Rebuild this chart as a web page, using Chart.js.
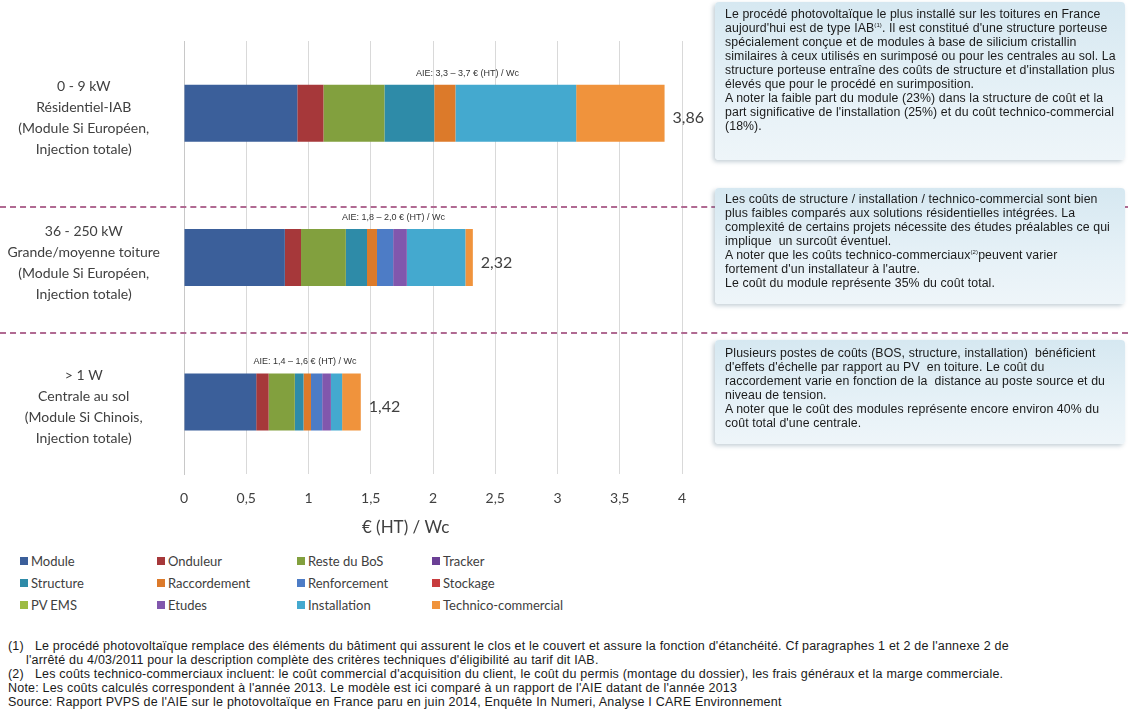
<!DOCTYPE html>
<html lang="fr">
<head>
<meta charset="UTF-8">
<title>Coûts PV France 2013</title>
<script src="https://cdn.jsdelivr.net/npm/chart.js"></script>
<style>
  body { margin: 0; background: #fff; width: 1128px; height: 725px; position: relative; overflow: hidden; font-family: Lato, sans-serif; }
  #wrap { position: absolute; left: 0; top: 0; width: 715px; height: 545px; }
  .sep { position: absolute; left: 0; width: 1128px; height: 0; border-top: 2px dashed #b06a92; }
  .box { position: absolute; left: 715px; width: 410px; padding: 5px 0 0 10px; box-sizing: border-box;
         background: linear-gradient(180deg, #d6e8f1 0%, #e6f1f7 60%, #eef5f9 100%);
         border-radius: 4px; box-shadow: -2px 2px 4px rgba(90,120,140,0.35);
         font-family: "Liberation Sans", Arial, sans-serif; font-size: 12.3px; letter-spacing: 0.1px; line-height: 14px; color: #1a1a1a; }
  .box p { margin: 0; white-space: nowrap; }
  .box sup { font-size: 6px; line-height: 0; vertical-align: 5px; }
  #legend { position: absolute; left: 20px; top: 552px; display: grid; grid-template-columns: 137px 140px 135px 160px; row-gap: 5px; }
  .li { font-size: 13px; color: #404040; display: flex; align-items: center; height: 17px; white-space: nowrap; }
  .li span { display: inline-block; width: 8px; height: 8px; margin-right: 3px; }
  #notes { position: absolute; left: 8px; top: 639px; font-family: "Liberation Sans", Arial, sans-serif; font-size: 12.5px; letter-spacing: 0.2px; line-height: 14px; color: #1a1a1a; }
  #notes p { margin: 0; white-space: nowrap; }
  #notes .ind { padding-left: 18px; }
</style>
</head>
<body>
<div id="wrap"><canvas id="costChart" width="715" height="545"></canvas></div>

<div class="sep" style="top:206px"></div>
<div class="sep" style="top:332px"></div>

<div class="box" style="top:2px; height:158px">
  <p>Le procédé photovoltaïque le plus installé sur les toitures en France</p>
  <p>aujourd'hui est de type IAB<sup>(1)</sup>. Il est constitué d'une structure porteuse</p>
  <p>spécialement conçue et de modules à base de silicium cristallin</p>
  <p>similaires à ceux utilisés en surimposé ou pour les centrales au sol. La</p>
  <p>structure porteuse entraîne des coûts de structure et d'installation plus</p>
  <p>élevés que pour le procédé en surimposition.</p>
  <p>A noter la faible part du module (23%) dans la structure de coût et la</p>
  <p>part significative de l'installation (25%) et du coût technico-commercial</p>
  <p>(18%).</p>
</div>

<div class="box" style="top:188px; height:116px; padding-top:4px">
  <p>Les coûts de structure / installation / technico-commercial sont bien</p>
  <p>plus faibles comparés aux solutions résidentielles intégrées. La</p>
  <p>complexité de certains projets nécessite des études préalables ce qui</p>
  <p>implique&nbsp; un surcoût éventuel.</p>
  <p>A noter que les coûts technico-commerciaux<sup>(2)</sup>peuvent varier</p>
  <p>fortement d'un installateur à l'autre.</p>
  <p>Le coût du module représente 35% du coût total.</p>
</div>

<div class="box" style="top:340px; height:104px; padding-top:6px">
  <p>Plusieurs postes de coûts (BOS, structure, installation)&nbsp; bénéficient</p>
  <p>d'effets d'échelle par rapport au PV&nbsp; en toiture. Le coût du</p>
  <p>raccordement varie en fonction de la&nbsp; distance au poste source et du</p>
  <p>niveau de tension.</p>
  <p>A noter que le coût des modules représente encore environ 40% du</p>
  <p>coût total d'une centrale.</p>
</div>

<div id="legend"></div>

<div id="notes">
  <p>(1)&nbsp;&nbsp; Le procédé photovoltaïque remplace des éléments du bâtiment qui assurent le clos et le couvert et assure la fonction d'étanchéité. Cf paragraphes 1 et 2 de l'annexe 2 de</p>
  <p class="ind">l'arrêté du 4/03/2011 pour la description complète des critères techniques d'éligibilité au tarif dit IAB.</p>
  <p>(2)&nbsp;&nbsp; Les coûts technico-commerciaux incluent: le coût commercial d'acquisition du client, le coût du permis (montage du dossier), les frais généraux et la marge commerciale.</p>
  <p>Note: Les coûts calculés correspondent à l'année 2013. Le modèle est ici comparé à un rapport de l'AIE datant de l'année 2013</p>
  <p>Source: Rapport PVPS de l'AIE sur le photovoltaïque en France paru en juin 2014, Enquête In Numeri, Analyse I CARE Environnement</p>
</div>

<script>
// segments, in €(HT)/Wc, one value per category
const categories = [
    ['0 - 9 kW', 'Résidentiel-IAB', '(Module Si Européen,', 'Injection totale)'],
    ['36 - 250 kW', 'Grande/moyenne toiture', '(Module Si Européen,', 'Injection totale)'],
    ['> 1 W', 'Centrale au sol', '(Module Si Chinois,', 'Injection totale)']
];
const module_ = [0.91, 0.81, 0.58];
const onduleur = [0.21, 0.13, 0.10];
const resteBos = [0.49, 0.36, 0.21];
const tracker = [0, 0, 0];
const structure = [0.40, 0.17, 0.07];
const raccordement = [0.17, 0.08, 0.06];
const renforcement = [0, 0.13, 0.09];
const stockage = [0, 0, 0];
const pvEms = [0, 0, 0];
const etudes = [0, 0.11, 0.07];
const installation = [0.97, 0.47, 0.09];
const technico = [0.71, 0.06, 0.15];
const aieLabels = ['AIE: 3,3 – 3,7 € (HT) / Wc', 'AIE: 1,8 – 2,0 € (HT) / Wc', 'AIE: 1,4 – 1,6 € (HT) / Wc'];
const xTicks = [0, 0.5, 1, 1.5, 2, 2.5, 3, 3.5, 4];
const xTitle = '€ (HT) / Wc';

const series = [
    { label: 'Module', data: module_, color: '#3b5f9a' },
    { label: 'Onduleur', data: onduleur, color: '#a6383a' },
    { label: 'Reste du BoS', data: resteBos, color: '#82a03e' },
    { label: 'Tracker', data: tracker, color: '#6b3f95' },
    { label: 'Structure', data: structure, color: '#2e8ba8' },
    { label: 'Raccordement', data: raccordement, color: '#dc7a2a' },
    { label: 'Renforcement', data: renforcement, color: '#4d7cc6' },
    { label: 'Stockage', data: stockage, color: '#c83c3e' },
    { label: 'PV EMS', data: pvEms, color: '#9dbb43' },
    { label: 'Etudes', data: etudes, color: '#8157ad' },
    { label: 'Installation', data: installation, color: '#44a9cf' },
    { label: 'Technico-commercial', data: technico, color: '#f0933c' }
];

const totals = categories.map((c, i) => series.reduce((s, d) => s + d.data[i], 0));

// value at end of bar + AIE comparison above the bar + axis title
const labelPlugin = {
    id: 'barLabels',
    afterDatasetsDraw(chart, args, opts) {
        const { ctx, scales: { x, y } } = chart;
        ctx.save();
        ctx.textBaseline = 'middle';
        totals.forEach((t, i) => {
            const yy = y.getPixelForValue(i);
            ctx.fillStyle = '#404040';
            ctx.font = '16px Lato';
            ctx.textAlign = 'left';
            ctx.fillText(t.toFixed(2).replace('.', ','), x.getPixelForValue(t) + 8, yy + 5);
            ctx.font = '9px "Liberation Sans"';
            ctx.textAlign = 'center';
            ctx.fillStyle = '#333';
            ctx.fillText(aieLabels[i], x.getPixelForValue(t * opts.aieAt[i]), yy - 40);
        });
        ctx.fillStyle = '#404040';
        ctx.font = '17px Lato';
        ctx.textAlign = 'center';
        ctx.fillText(xTitle, x.getPixelForValue(opts.titleAt), opts.titleY);
        ctx.restore();
    }
};

const ctx = document.getElementById('costChart').getContext('2d');
const chart = new Chart(ctx, {
    type: 'bar',
    data: {
        labels: categories,
        datasets: series.map(s => ({
            label: s.label,
            data: s.data,
            backgroundColor: s.color,
            borderWidth: 0,
            barPercentage: 0.395,
            categoryPercentage: 1
        }))
    },
    options: {
        indexAxis: 'y',
        responsive: false,
        animation: false,
        layout: { padding: { top: 41, right: 33, bottom: 22, left: 0 } },
        plugins: {
            legend: { display: false },
            tooltip: { enabled: false },
            barLabels: { aieAt: [0.59, 0.725, 0.685], titleAt: 1.78, titleY: 528 }
        },
        scales: {
            x: {
                stacked: true,
                min: 0,
                max: 4,
                afterBuildTicks: axis => { axis.ticks = xTicks.map(v => ({ value: v })); },
                ticks: {
                    padding: 16,
                    color: '#404040',
                    font: { family: 'Lato', size: 14 },
                    callback: v => String(v).replace('.', ',')
                },
                grid: { color: '#d9d9d9', drawTicks: false },
                border: { display: false }
            },
            y: {
                stacked: true,
                afterFit: axis => {
                    axis.width = 184;
                    axis.paddingTop = 0;
                    axis.paddingBottom = 0;
                },
                ticks: {
                    crossAlign: 'center',
                    padding: 16,
                    labelOffset: 5,
                    color: '#404040',
                    font: { family: 'Lato', size: 14, lineHeight: 1.5 }
                },
                grid: { display: false },
                border: { display: true, color: '#c8c8c8', width: 1 }
            }
        }
    },
    plugins: [labelPlugin]
});

// legend in 4 columns, same order as the series
const legend = document.getElementById('legend');
series.forEach(s => {
    const d = document.createElement('div');
    d.className = 'li';
    d.innerHTML = `<span style="background:${s.color}"></span>${s.label}`;
    legend.appendChild(d);
});
</script>
</body>
</html>
